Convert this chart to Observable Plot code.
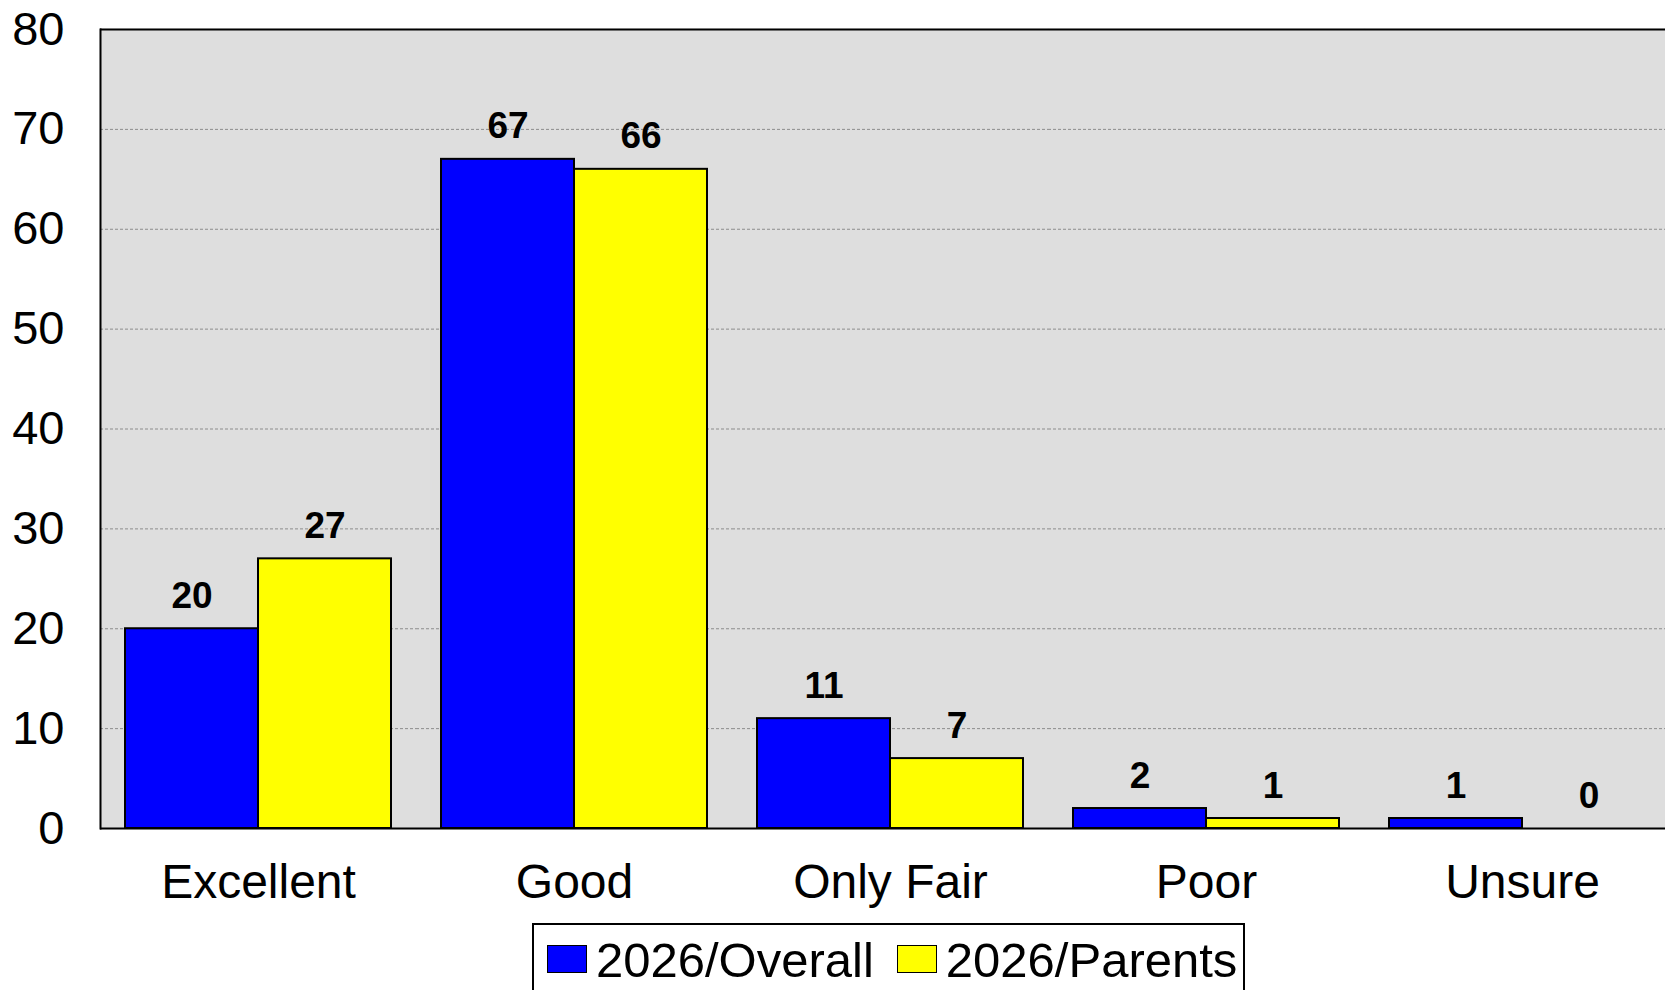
<!DOCTYPE html>
<html>
<head>
<meta charset="utf-8">
<script src="https://cdn.jsdelivr.net/npm/d3@7"></script>
<script src="https://cdn.jsdelivr.net/npm/@observablehq/plot@0.6"></script>
<style>
  html, body { margin: 0; padding: 0; overflow: hidden; background: #fff; }
  #chart { position: absolute; left: 0; top: 0; width: 1680px; }
  #chart svg { max-width: none !important; }
  #legend {
    position: absolute; left: 532px; top: 923px; width: 713px; height: 90px;
    box-sizing: border-box; border: 2px solid #000; background: #fff;
    display: flex; align-items: flex-start; padding: 11px 0 0 13px;
    font-family: "Liberation Sans", Arial, sans-serif; font-size: 49px; line-height: 1;
  }
  .item { display: flex; align-items: center; margin-right: 23px; }
  .sw { width: 38px; height: 26px; border: 1px solid #000; margin-right: 9px; box-sizing: content-box; position: relative; top: -2px; }
</style>
</head>
<body>
<div id="chart"></div>
<div id="legend"></div>
<script>
const categories = ["Excellent", "Good", "Only Fair", "Poor", "Unsure"];
const series = ["2026/Overall", "2026/Parents"];
const overall = [20, 67, 11, 2, 1];
const parents = [27, 66, 7, 1, 0];
const colors = ["#0000ff", "#ffff00"];
const yTicks = [0, 10, 20, 30, 40, 50, 60, 70, 80];
const gridTicks = [10, 20, 30, 40, 50, 60, 70];

const table = [];
categories.forEach((c, i) => {
  table.push({cat: c, series: series[0], value: overall[i]});
  table.push({cat: c, series: series[1], value: parents[i]});
});

const chart = Plot.plot({
  width: 1680,
  height: 915,
  marginTop: 29,
  marginBottom: 87,
  marginLeft: 100,
  marginRight: 0,
  style: {fontFamily: "Liberation Sans, Arial, sans-serif", fontSize: "47px", color: "#000", background: "transparent", maxWidth: "none"},
  fx: {domain: categories, padding: 0, axis: "bottom", tickSize: 0, tickPadding: 35, label: null},
  x: {domain: series, paddingInner: 0, paddingOuter: 0.18, axis: null},
  y: {domain: [0, 80], ticks: yTicks, tickSize: 0, tickPadding: 36, label: null, tickFormat: d => String(d)},
  color: {domain: series, range: colors},
  marks: [
    Plot.frame({fill: "#dedede", stroke: "#dedede", strokeWidth: 1.5}),
    Plot.ruleY(gridTicks, {stroke: "#8c8c8c", strokeWidth: 1, strokeDasharray: "3,2"}),
    Plot.barY(table, {fx: "cat", x: "series", y: "value", fill: "series", stroke: "#000", strokeWidth: 2}),
    Plot.text(table, {fx: "cat", x: "series", y: "value", text: d => String(d.value), dy: -21, lineAnchor: "bottom", fontSize: 37, fontWeight: "bold", fill: "#000"}),
    Plot.ruleY([0], {stroke: "#000", strokeWidth: 2}),
    Plot.ruleY([80], {stroke: "#000", strokeWidth: 2}),
    Plot.frame({anchor: "left", stroke: "#000", strokeWidth: 2, facetAnchor: "left"})
  ]
});
document.getElementById("chart").appendChild(chart);
// category labels slightly larger than y tick labels
chart.querySelectorAll("[aria-label='fx-axis tick label'] text, [aria-label='fx-axis tick label']").forEach(el => el.setAttribute("font-size", "48"));

const legend = document.getElementById("legend");
series.forEach((s, i) => {
  const item = document.createElement("div");
  item.className = "item";
  const sw = document.createElement("span");
  sw.className = "sw";
  sw.style.background = colors[i];
  const t = document.createElement("span");
  t.textContent = s;
  item.appendChild(sw);
  item.appendChild(t);
  legend.appendChild(item);
});
</script>
</body>
</html>
